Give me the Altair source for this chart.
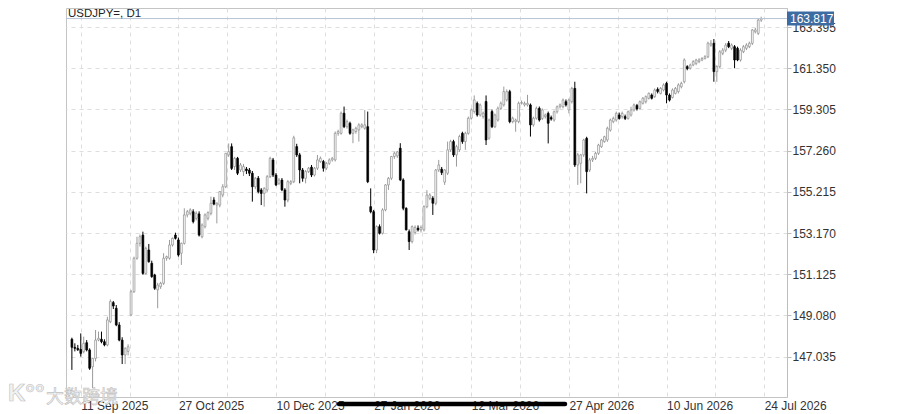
import altair as alt
import pandas as pd

# ---- data (daily candles, index = bar number) ----
open_ = [
    147.90, 147.50, 147.45, 147.40, 147.29, 147.73, 147.37, 146.54, 146.95, 147.86,
    147.90, 147.78, 147.62, 148.77, 149.72, 149.44, 148.61, 147.86, 147.12, 147.30,
    149.11, 150.26, 151.92, 152.66, 153.07, 151.17, 152.33, 151.67, 151.09, 150.35,
    150.51, 150.68, 151.92, 151.92, 152.58, 153.07, 152.83, 152.17, 152.66, 154.07,
    154.15, 154.23, 153.90, 154.12, 152.99, 153.49, 153.90, 154.15, 154.81, 154.56,
    154.56, 155.06, 155.47, 157.05, 157.46, 156.47, 156.88, 156.30, 156.22, 156.35,
    156.30, 156.14, 155.47, 155.89, 155.31, 155.14, 155.31, 155.97, 156.80, 156.05,
    155.64, 155.80, 155.31, 154.81, 155.64, 155.72, 157.46, 157.05, 156.30, 155.89,
    156.22, 156.44, 156.05, 156.39, 156.72, 156.72, 156.39, 156.63, 156.80, 156.80,
    158.12, 158.12, 159.12, 158.45, 158.62, 158.12, 158.21, 158.29, 158.45, 158.37,
    158.45, 154.48, 154.23, 152.33, 153.49, 153.16, 154.32, 155.56, 155.89, 156.97,
    157.00, 157.38, 155.81, 154.40, 153.24, 152.75, 153.20, 153.41, 153.33, 153.33,
    154.48, 154.90, 154.90, 154.65, 156.30, 156.34, 155.70, 156.14, 157.30, 157.71,
    157.05, 157.30, 158.12, 157.71, 158.12, 158.87, 159.20, 159.61, 159.03, 158.95,
    159.70, 157.88, 159.20, 158.45, 158.78, 159.36, 159.53, 159.78, 160.19, 158.70,
    158.70, 158.70, 159.61, 159.53, 159.53, 159.53, 158.54, 158.87, 159.36, 158.86,
    158.95, 159.11, 158.90, 158.78, 159.19, 159.44, 159.44, 159.69, 159.28, 159.69,
    160.35, 156.55, 156.63, 157.05, 157.87, 156.30, 156.80, 156.88, 157.13, 157.46,
    157.71, 157.79, 158.28, 158.70, 158.78, 159.03, 158.95, 158.95, 158.86, 159.03,
    159.28, 159.50, 159.36, 159.61, 159.69, 159.86, 160.02, 159.94, 160.30, 160.10,
    160.27, 160.60, 160.02, 159.90, 160.10, 160.19, 160.43, 160.68, 161.43, 161.35,
    161.51, 161.59, 161.68, 161.76, 161.84, 161.92, 162.50, 162.59, 161.18, 161.43,
    162.09, 162.25, 162.59, 162.34, 162.42, 162.34, 161.76, 162.17, 162.34, 162.42,
    162.59, 163.16, 163.08, 163.74,
]
high = [
    147.98, 147.70, 147.62, 148.19, 148.03, 147.86, 147.45, 146.98, 148.36, 148.28,
    148.28, 147.90, 149.02, 149.88, 149.80, 149.60, 148.75, 148.00, 147.50, 147.65,
    150.35, 152.00, 152.99, 153.10, 153.24, 152.50, 152.63, 151.80, 151.15, 150.70,
    150.75, 152.17, 152.05, 152.83, 152.95, 153.19, 152.95, 152.70, 154.40, 154.32,
    154.40, 154.35, 154.25, 154.25, 153.65, 154.15, 154.25, 154.98, 154.95, 154.70,
    155.25, 155.60, 157.15, 157.62, 157.62, 156.95, 156.95, 156.65, 156.60, 156.45,
    156.40, 156.25, 155.95, 156.00, 155.40, 155.45, 156.05, 156.96, 156.90, 156.15,
    155.90, 155.90, 155.40, 155.80, 155.80, 158.00, 157.60, 157.15, 156.40, 156.30,
    156.45, 156.55, 156.45, 157.05, 156.97, 156.80, 156.70, 156.88, 156.95, 158.21,
    158.30, 159.20, 159.45, 158.80, 158.70, 158.35, 158.45, 158.62, 158.62, 159.28,
    159.20, 155.39, 154.32, 153.55, 153.60, 154.40, 155.60, 155.95, 157.00, 157.20,
    157.25, 157.63, 155.89, 154.45, 153.35, 153.55, 153.55, 153.55, 153.55, 154.55,
    155.30, 155.15, 155.00, 156.35, 156.80, 156.45, 156.35, 157.71, 157.80, 157.80,
    157.55, 158.05, 158.20, 158.20, 158.95, 159.36, 160.00, 159.70, 159.60, 159.20,
    160.00, 158.85, 159.30, 159.10, 159.45, 159.70, 160.44, 160.30, 160.28, 158.95,
    158.85, 159.70, 159.75, 159.70, 160.03, 159.60, 158.95, 159.45, 159.45, 159.36,
    159.10, 159.20, 159.00, 159.25, 159.50, 159.60, 159.85, 159.80, 159.85, 160.43,
    160.68, 157.15, 157.10, 157.85, 157.95, 156.90, 157.00, 157.20, 157.60, 157.85,
    158.00, 158.45, 158.85, 158.95, 159.20, 159.15, 159.20, 159.05, 159.25, 159.44,
    159.60, 159.58, 159.75, 159.92, 160.00, 160.15, 160.10, 160.35, 160.40, 160.42,
    160.60, 160.68, 160.10, 160.35, 160.42, 160.60, 160.68, 161.84, 161.50, 161.58,
    161.75, 161.82, 161.85, 161.90, 162.00, 162.67, 162.75, 162.80, 161.50, 162.25,
    162.35, 162.60, 162.70, 162.58, 162.50, 162.42, 162.34, 162.50, 162.59, 162.67,
    163.30, 163.35, 163.80, 163.91,
]
low = [
    146.38, 147.30, 147.32, 147.04, 147.20, 147.30, 146.38, 145.47, 146.80, 147.80,
    147.70, 147.55, 147.55, 148.70, 149.40, 148.55, 147.80, 146.67, 146.67, 147.10,
    149.05, 150.20, 151.85, 152.50, 151.10, 151.10, 151.70, 150.95, 150.35, 149.44,
    150.40, 150.60, 151.80, 151.85, 152.50, 152.85, 152.00, 151.59, 152.60, 153.95,
    154.05, 153.65, 153.80, 153.00, 152.91, 153.40, 153.80, 154.05, 154.55, 153.65,
    154.45, 154.95, 155.40, 156.95, 156.30, 156.30, 156.05, 156.20, 156.00, 156.10,
    156.00, 154.73, 155.35, 155.14, 154.56, 154.48, 155.20, 155.90, 155.95, 155.50,
    155.55, 155.25, 154.48, 154.70, 155.55, 155.65, 156.95, 155.64, 155.72, 155.64,
    156.15, 155.95, 155.98, 156.30, 156.65, 156.22, 156.30, 156.55, 156.72, 156.72,
    158.00, 158.05, 158.38, 158.35, 158.05, 157.63, 158.10, 157.71, 158.37, 158.30,
    155.65, 154.15, 152.17, 152.17, 153.10, 153.10, 154.25, 155.31, 155.80, 156.85,
    156.90, 155.75, 154.30, 153.30, 152.33, 152.66, 153.10, 153.25, 153.20, 153.25,
    154.40, 154.80, 154.07, 154.55, 156.20, 156.05, 155.56, 156.05, 157.20, 156.95,
    156.47, 157.20, 157.60, 157.30, 158.05, 158.80, 159.10, 158.95, 158.95, 158.85,
    157.54, 157.80, 158.38, 158.38, 158.70, 159.28, 159.45, 159.70, 158.62, 158.62,
    158.20, 158.62, 159.55, 159.45, 159.45, 157.96, 158.45, 158.80, 158.70, 158.78,
    158.85, 157.62, 158.75, 158.70, 159.10, 159.35, 159.36, 159.45, 159.11, 159.60,
    156.45, 155.56, 155.64, 156.95, 155.14, 156.20, 156.70, 156.80, 157.05, 157.40,
    157.65, 157.70, 158.20, 158.62, 158.70, 158.80, 158.85, 158.78, 158.80, 158.95,
    159.20, 159.25, 159.30, 159.55, 159.60, 159.80, 159.80, 159.88, 160.10, 160.05,
    160.20, 159.61, 159.70, 159.85, 160.05, 160.10, 160.35, 160.60, 161.25, 161.28,
    161.45, 161.50, 161.60, 161.70, 161.78, 161.85, 162.42, 160.68, 160.68, 161.35,
    162.00, 162.15, 162.35, 162.25, 161.35, 161.70, 161.68, 162.10, 162.25, 162.35,
    162.50, 163.08, 163.00, 163.65,
]
close = [
    147.50, 147.45, 147.38, 147.20, 147.70, 147.37, 146.46, 146.95, 147.86, 147.95,
    147.78, 147.62, 148.86, 149.77, 149.55, 148.61, 147.86, 147.12, 147.45, 147.53,
    150.26, 151.92, 152.66, 152.99, 151.17, 152.41, 151.75, 151.01, 150.43, 150.59,
    150.68, 151.92, 152.00, 152.58, 152.91, 152.91, 152.08, 152.66, 154.07, 154.23,
    154.32, 153.74, 154.15, 153.07, 153.57, 154.07, 154.18, 154.65, 154.61, 154.65,
    155.23, 155.47, 157.13, 157.21, 156.38, 156.88, 156.14, 156.55, 156.47, 156.27,
    156.14, 155.47, 155.89, 155.23, 155.14, 155.39, 155.97, 156.88, 156.05, 155.56,
    155.80, 155.31, 154.81, 155.72, 155.72, 157.90, 157.05, 156.30, 155.89, 156.22,
    156.39, 156.05, 156.39, 156.80, 156.88, 156.39, 156.63, 156.80, 156.88, 158.12,
    158.21, 159.12, 158.45, 158.70, 158.12, 158.29, 158.37, 158.54, 158.54, 158.54,
    155.72, 154.23, 152.33, 153.49, 153.16, 154.32, 155.56, 155.89, 156.97, 157.13,
    157.20, 155.81, 154.40, 153.33, 152.75, 153.49, 153.45, 153.33, 153.45, 154.48,
    155.06, 155.06, 154.65, 156.30, 156.55, 156.17, 156.30, 157.30, 157.71, 157.05,
    157.46, 157.96, 157.71, 158.12, 158.87, 159.28, 159.78, 159.03, 159.53, 159.12,
    157.79, 158.78, 158.45, 159.03, 159.36, 159.61, 160.19, 160.19, 158.70, 158.87,
    158.78, 159.61, 159.65, 159.61, 159.61, 158.54, 158.87, 159.36, 158.78, 159.28,
    159.03, 158.62, 158.83, 159.19, 159.44, 159.53, 159.77, 159.53, 159.77, 160.35,
    156.55, 157.05, 157.05, 157.79, 156.22, 156.80, 156.88, 157.13, 157.54, 157.79,
    157.95, 158.37, 158.78, 158.86, 159.11, 158.86, 159.11, 158.86, 159.19, 159.28,
    159.53, 159.33, 159.69, 159.86, 159.94, 160.10, 159.86, 160.27, 160.20, 160.35,
    160.52, 160.02, 159.77, 160.27, 160.35, 160.52, 160.60, 161.76, 161.33, 161.51,
    161.68, 161.76, 161.76, 161.84, 161.92, 162.59, 162.59, 161.18, 161.43, 162.17,
    162.25, 162.50, 162.42, 162.50, 161.76, 161.76, 162.25, 162.42, 162.50, 162.59,
    163.25, 163.25, 163.74, 163.82,
]

tick_bars = [3, 36, 69, 102, 135, 168, 201, 234]
tick_labels = ["11 Sep 2025", "27 Oct 2025", "10 Dec 2025", "27 Jan 2026",
               "12 Mar 2026", "27 Apr 2026", "10 Jun 2026", "24 Jul 2026"]
grid_bars = [3, 19.5, 36, 52.5, 69, 85.5, 102, 118.5, 135, 151.5, 168, 184.5, 201, 217.5, 234]
price_ticks = [147.035, 149.080, 151.125, 153.170, 155.215, 157.260, 159.305, 161.350, 163.395]
last_price = 163.817
symbol = "USDJPY=, D1"
watermark = "大数跨境"

# ---- tables ----
df = pd.DataFrame({
    "bar": list(range(len(close))),
    "open": open_, "high": high, "low": low, "close": close,
})
df["dir"] = ["up" if c >= o else "down" for o, c in zip(open_, close)]
last_df = pd.DataFrame({
    "price": [last_price],
    "box_top": [last_price + 0.35],
    "box_bottom": [last_price - 0.35],
    "label": [f"{last_price:.3f}"],
})
one = pd.DataFrame({"t": [symbol], "w": [watermark]})

FONT = "Liberation Sans"
W, H = 721, 389

label_expr = "".join(f"datum.value == {b} ? '{t}' : " for b, t in zip(tick_bars, tick_labels)) + "''"

xscale = alt.Scale(domain=[-0.3, 240.03], nice=False, zero=False)
yscale = alt.Scale(domain=[145.035, 164.34], nice=False, zero=False)

x_axis = alt.Axis(values=grid_bars, labelExpr=label_expr, grid=True, gridDash=[4, 4],
                  gridColor="#dedede", domain=False, ticks=False, labelAlign="left",
                  labelBaseline="top", labelPadding=3, labelFontSize=12, labelColor="#333333",
                  labelFont=FONT, labelOverlap=False, labelFlush=False, labelBound=False, title=None)
y_axis = alt.Axis(orient="right", values=price_ticks, format=".3f", grid=True, gridDash=[4, 4],
                  gridColor="#dedede", domain=True, domainColor="#bdbdbd", ticks=True,
                  tickColor="#bdbdbd", tickSize=4, labelPadding=1, labelFontSize=12,
                  labelColor="#333333", labelFont=FONT, labelOverlap=False, labelBound=False,
                  labelFlush=False, title=None)

X = alt.X("bar:Q", scale=xscale, axis=x_axis)
base = alt.Chart(df)

wicks = base.mark_rule(strokeWidth=1).encode(
    x=X,
    y=alt.Y("low:Q", scale=yscale, axis=y_axis),
    y2="high:Q",
    color=alt.Color("dir:N", scale=alt.Scale(domain=["up", "down"], range=["#9a9a9a", "#000000"]), legend=None),
)

bodies = base.mark_bar(size=1.8, strokeWidth=0.7).encode(
    x=X,
    y=alt.Y("open:Q", scale=yscale, axis=y_axis),
    y2="close:Q",
    fill=alt.Fill("dir:N", scale=alt.Scale(domain=["up", "down"], range=["#ffffff", "#000000"]), legend=None),
    stroke=alt.Stroke("dir:N", scale=alt.Scale(domain=["up", "down"], range=["#8c8c8c", "#000000"]), legend=None),
)

price_line = alt.Chart(last_df).mark_rule(color="#b9c6d8", strokeWidth=1).encode(
    y=alt.Y("price:Q", scale=yscale, axis=y_axis),
)

price_box = alt.Chart(last_df).mark_rect(color="#3d6ca3").encode(
    x=alt.value(W), x2=alt.value(W + 47),
    y=alt.Y("box_top:Q", scale=yscale, axis=y_axis), y2="box_bottom:Q",
)

price_text = alt.Chart(last_df).mark_text(align="left", baseline="middle", color="white",
                                          fontSize=12, font=FONT).encode(
    x=alt.value(W + 3), y=alt.Y("price:Q", scale=yscale, axis=y_axis), text="label:N",
)

title_text = alt.Chart(one).mark_text(align="left", baseline="alphabetic", color="#222222",
                                      fontSize=11.5, font=FONT).encode(
    x=alt.value(2), y=alt.value(9), text="t:N",
)

wm_k = alt.Chart(one).mark_text(align="left", baseline="middle", color="#f2f2f2", stroke="#c0c0c0",
                                strokeWidth=0.6, fontSize=24, font=FONT, fontWeight="bold").encode(
    x=alt.value(-58), y=alt.value(386), text=alt.value("K°°"),
)
wm_text = alt.Chart(one).mark_text(align="left", baseline="middle", color="#f4f4f4", stroke="#c0c0c0",
                                   strokeWidth=0.6, fontSize=18, font="Noto Sans CJK SC").encode(
    x=alt.value(-20), y=alt.value(390), text="w:N",
)

black_bar = alt.Chart(one).mark_rule(color="black", strokeWidth=4.5, strokeCap="round").encode(
    x=alt.value(273), x2=alt.value(499), y=alt.value(396),
)

chart = alt.layer(
    wicks, bodies, price_line, price_box, price_text, title_text, wm_k, wm_text, black_bar
).resolve_scale(
    color="independent", fill="independent", stroke="independent"
).properties(
    width=W, height=H,
    autosize=alt.AutoSizeParams(type="none"),
    padding={"left": 58, "top": 0, "right": 105, "bottom": 17},
).configure_view(
    stroke="#c4c4c4", strokeWidth=1
)

chart.save("out.html", embed_options={"renderer": "svg", "actions": False})
